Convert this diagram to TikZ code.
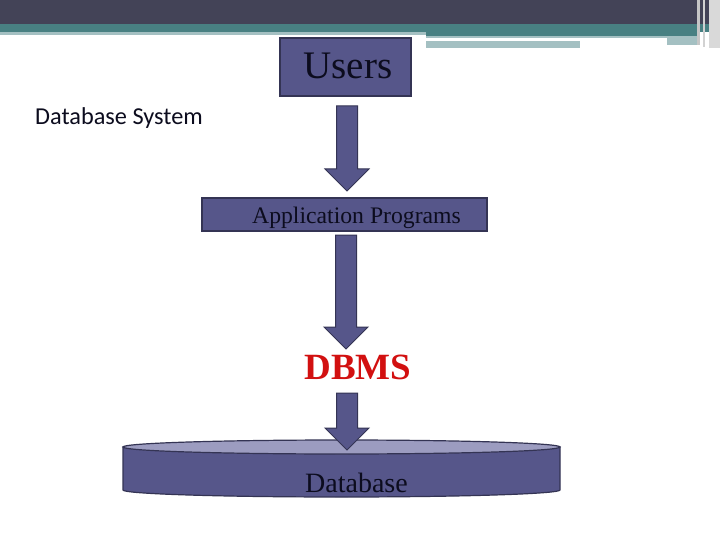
\documentclass[tikz,border=0pt]{standalone}
\usepackage{fontspec}
\setmainfont{Liberation Serif}
\newfontfamily\calibrifont{Carlito}
\usetikzlibrary{calc}
\definecolor{hdrdark}{RGB}{67,67,87}
\definecolor{hdrteal}{RGB}{72,128,130}
\definecolor{hdrlight}{RGB}{164,192,194}
\definecolor{boxfill}{RGB}{86,86,138}
\definecolor{boxedge}{RGB}{52,52,84}
\definecolor{topfill}{RGB}{156,156,192}
\definecolor{txtdark}{RGB}{12,12,30}
\definecolor{dbmsred}{RGB}{210,16,16}
\tikzset{
  box/.style={draw=boxedge, fill=boxfill, line width=1.2pt, inner sep=0pt},
  barrow/.style={draw=boxedge, fill=boxfill, line width=1pt, line join=miter},
  lbl/.style={text=txtdark, inner sep=0pt, anchor=base}
}
\newcommand\blockarrow[2]{%
  \path let \p1=(#1), \p2=(#2) in [barrow]
    (\x2,\y2) -- (\x2+22pt,\y2+22pt) -- (\x2+10.5pt,\y2+22pt) -- (\x2+10.5pt,\y1)
    -- (\x2-10.5pt,\y1) -- (\x2-10.5pt,\y2+22pt) -- (\x2-22pt,\y2+22pt) -- cycle;}
\begin{document}
\begin{tikzpicture}[x=1pt,y=-1pt]
\useasboundingbox (0,0) rectangle (720,540);
\fill[white] (0,0) rectangle (720,540);
% header
\fill[hdrdark] (0,0) rectangle (720,24);
\fill[hdrteal] (0,24) rectangle (720,32);
\fill[hdrlight] (0,32) rectangle (426,35);
\fill[hdrteal] (426,32) rectangle (700,36.5);
\fill[hdrlight] (426,36.5) rectangle (667,38.5);
\fill[hdrlight] (426,41.5) rectangle (580,48);
\fill[hdrlight] (667,36.5) rectangle (700,45);
\fill[gray!45] (697,0) rectangle (700,45);
\fill[gray!35] (703,0) rectangle (705,47);
\fill[gray!30] (709,0) rectangle (720,48);
% title
\node[lbl, anchor=base west, font=\calibrifont\fontsize{24.3}{28}\selectfont] (title) at (35,125) {Database System};
% users
\node[box, minimum width=131pt, minimum height=58pt] (users) at (345.5,67) {};
\node[lbl, font=\fontsize{39}{44}\selectfont] (userstxt) at (348,79) {Users};
% application programs
\node[box, minimum width=285pt, minimum height=33pt] (app) at (344.5,214.5) {};
\node[lbl, font=\fontsize{23.7}{28}\selectfont] (apptxt) at (356.5,223) {Application Programs};
% DBMS
\node[lbl, text=dbmsred, font=\bfseries\fontsize{37}{42}\selectfont] (dbms) at (358,379) {DBMS};
% database cylinder
\draw[box] (123,447) -- (123,490) arc[start angle=180, end angle=360, x radius=218.5pt, y radius=7pt] -- (560,447) -- cycle;
\draw[box, fill=topfill] (341.5,447) ellipse[x radius=218.5pt, y radius=7pt];
\node[lbl, font=\fontsize{28}{32}\selectfont] (db) at (356.5,492) {Database};
% arrows
\coordinate (a1s) at (347,106);
\coordinate (a1e) at (347,191);
\coordinate (a2s) at (346,235);
\coordinate (a2e) at (346,349);
\coordinate (a3s) at (347,393);
\coordinate (a3e) at (347,450);
\blockarrow{a1s}{a1e}
\blockarrow{a2s}{a2e}
\blockarrow{a3s}{a3e}
\end{tikzpicture}
\end{document}
